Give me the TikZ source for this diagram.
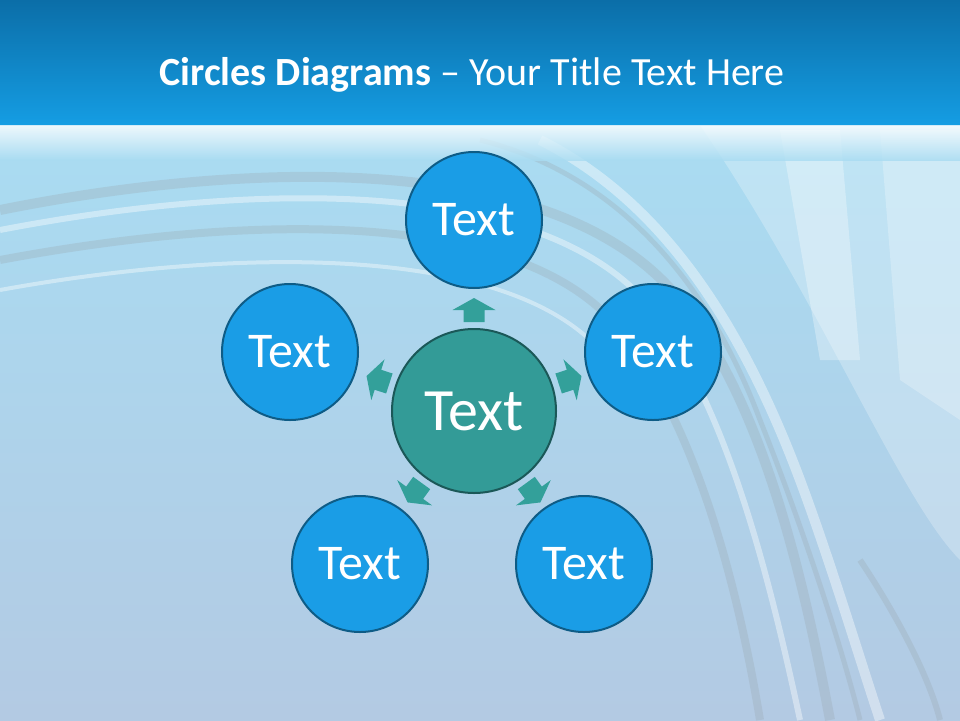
\documentclass[tikz,border=0pt]{standalone}
\usepackage{fontspec}
\setmainfont{Carlito}
\usetikzlibrary{shapes.geometric}
\definecolor{hdrtop}{HTML}{0B6EA8}
\definecolor{hdrbot}{HTML}{159DE3}
\definecolor{bodytop}{HTML}{A9DCF2}
\definecolor{bodybot}{HTML}{B3CAE3}
\definecolor{outerfill}{HTML}{1A9DE6}
\definecolor{outerline}{HTML}{0E5C86}
\definecolor{centerfill}{HTML}{339B97}
\definecolor{centerline}{HTML}{1B5858}
\definecolor{arrowfill}{HTML}{33A09A}
\definecolor{swirlgray}{HTML}{9AA8B0}
\tikzset{
  outer/.style={circle,draw=outerline,line width=2pt,fill=outerfill,minimum size=136pt,inner sep=0pt,text=white,font=\fontsize{50}{50}\selectfont},
  center/.style={circle,draw=centerline,line width=2pt,fill=centerfill,minimum size=164pt,inner sep=0pt,text=white,font=\fontsize{60}{60}\selectfont},
  blockarrow/.style={fill=arrowfill,draw=none},
  swirl/.style={line width=#1,opacity=0.3,draw=swirlgray},
  swirlw/.style={line width=#1,opacity=0.4,draw=white}
}
\begin{document}
\begin{tikzpicture}[x=1pt,y=-1pt]
\useasboundingbox (0,0) rectangle (960,720);
% body background
\shade[top color=bodytop,bottom color=bodybot] (0,125) rectangle (960,720);
% lighter right side
\fill[white,opacity=0.25] (700,125) .. controls (820,300) and (900,500) .. (960,560) -- (960,125) -- cycle;
% swirl bands
\begin{scope}
\clip (0,125) rectangle (960,720);
\draw[swirl=10pt] (0,210) .. controls (250,160) and (560,150) .. (680,300) .. controls (760,400) and (800,560) .. (830,720);
\draw[swirlw=6pt] (0,230) .. controls (260,180) and (560,175) .. (660,320) .. controls (730,420) and (770,580) .. (800,720);
\draw[swirl=8pt] (0,260) .. controls (240,215) and (520,205) .. (620,330) .. controls (700,430) and (740,600) .. (760,720);
\draw[swirlw=4pt] (0,290) .. controls (220,250) and (500,240) .. (600,350);
\draw[swirl=5pt] (480,140) .. controls (600,170) and (700,260) .. (760,420) .. controls (800,520) and (840,640) .. (860,720);
\draw[swirlw=10pt] (540,140) .. controls (660,200) and (740,320) .. (800,480) .. controls (830,560) and (860,660) .. (880,720);
\draw[swirl=6pt] (860,560) .. controls (900,620) and (930,680) .. (940,720);
\fill[white,opacity=0.3] (780,130) -- (840,130) -- (860,360) -- (820,360) -- cycle;
\fill[white,opacity=0.25] (880,130) -- (960,130) -- (960,420) -- (900,380) -- cycle;
\end{scope}
% header
\shade[top color=hdrtop,bottom color=hdrbot] (0,0) rectangle (960,125);
\shade[top color=white,bottom color=bodytop,opacity=0.8] (0,125) rectangle (960,160);
\node[text=white,font=\fontsize{40}{40}\selectfont] (title) at (472,75) {\textbf{Circles Diagrams} -- Your Title Text Here};
% circles
\node[center] (c) at (474,411) {Text};
\node[outer] (n1) at (474,220) {Text};
\node[outer] (n2) at (653,352) {Text};
\node[outer] (n3) at (584,564) {Text};
\node[outer] (n4) at (360,564) {Text};
\node[outer] (n5) at (290,352) {Text};
% block arrows
\foreach \ang in {90,18,-54,-126,162}{
  \begin{scope}[shift={(c.center)},rotate=\ang]
    \fill[blockarrow] (89,-10.5) -- (101,-10.5) -- (101,-21.5) -- (113,0) -- (101,21.5) -- (101,10.5) -- (89,10.5) -- cycle;
  \end{scope}
}
\end{tikzpicture}
\end{document}
